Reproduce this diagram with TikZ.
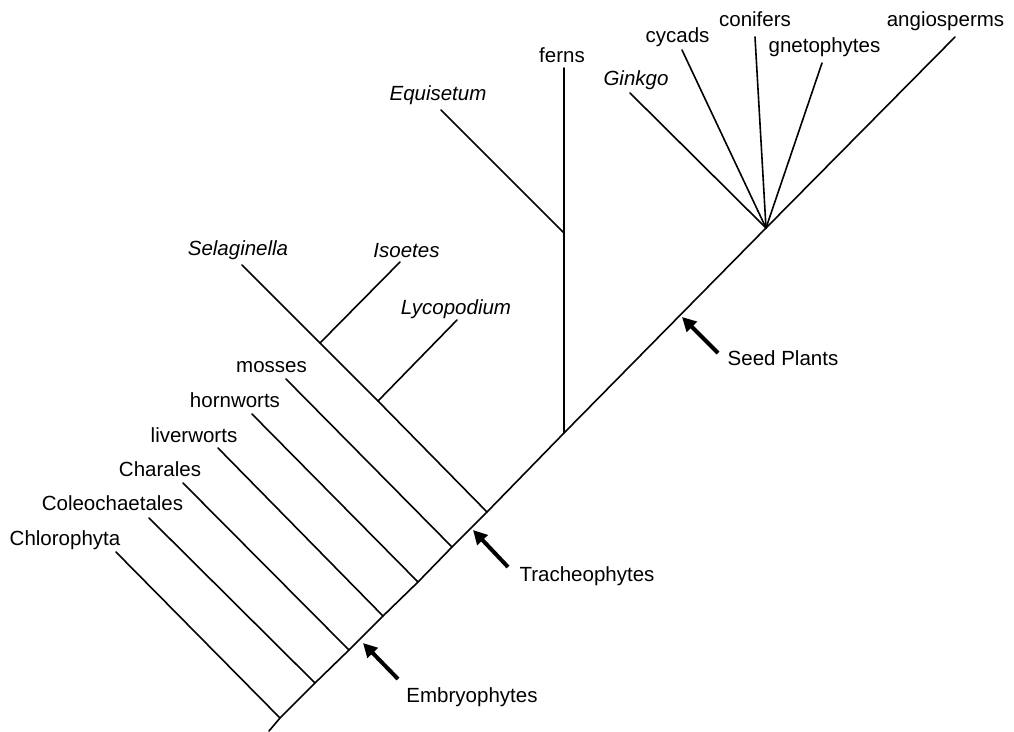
\documentclass[tikz,border=0pt]{standalone}
\usepackage{fontspec}
\setmainfont{Liberation Sans}
\usetikzlibrary{arrows.meta}
\begin{document}
\begin{tikzpicture}[x=1pt,y=-1pt,
  branch/.style={line width=1.6pt, line cap=round},
  lbl/.style={anchor=base, inner sep=0pt, font=\fontsize{20.5}{24}\selectfont},
  ilbl/.style={lbl, font=\fontsize{20.5}{24}\selectfont\itshape},
  marker/.style={line width=4pt, -{Triangle[length=14pt,width=14pt]}}]
\useasboundingbox[fill=white] (0,0) rectangle (1014,731);

% trunk junctions
\coordinate (root) at (269,731);
\coordinate (jchl) at (280,718);
\coordinate (jcol) at (315,683);
\coordinate (jcha) at (349,650);
\coordinate (jliv) at (383,616);
\coordinate (jhor) at (418,582);
\coordinate (jmos) at (452,547);
\coordinate (jtra) at (487,512);
\coordinate (jfer) at (564,433);
\coordinate (jsee) at (766,228);

% tips
\coordinate (tchl) at (116,552);
\coordinate (tcol) at (149,518);
\coordinate (tcha) at (183,483);
\coordinate (tliv) at (218,448);
\coordinate (thor) at (252,414);
\coordinate (tmos) at (286,379);
\coordinate (tsel) at (242,265);
\coordinate (jiso) at (320,343);
\coordinate (tiso) at (400,262);
\coordinate (jlyc) at (378,401);
\coordinate (tlyc) at (457,320);
\coordinate (jequ) at (564,233);
\coordinate (tequ) at (441,110);
\coordinate (tfer) at (564,68);
\coordinate (tgin) at (630,93);
\coordinate (tcyc) at (682,50);
\coordinate (tcon) at (755,37);
\coordinate (tgne) at (822,63);
\coordinate (tang) at (955,37);

% trunk
\draw[branch] (root) -- (jchl) -- (jcol) -- (jcha) -- (jliv) -- (jhor) -- (jmos) -- (jtra) -- (jfer) -- (jsee) -- (tang);

% side branches
\draw[branch] (jchl) -- (tchl);
\draw[branch] (jcol) -- (tcol);
\draw[branch] (jcha) -- (tcha);
\draw[branch] (jliv) -- (tliv);
\draw[branch] (jhor) -- (thor);
\draw[branch] (jmos) -- (tmos);
\draw[branch] (jtra) -- (jlyc) -- (jiso) -- (tsel);
\draw[branch] (jiso) -- (tiso);
\draw[branch] (jlyc) -- (tlyc);
\draw[branch] (jfer) -- (jequ) -- (tfer);
\draw[branch] (jequ) -- (tequ);
\draw[branch] (jsee) -- (tgin);
\draw[branch] (jsee) -- (tcyc);
\draw[branch] (jsee) -- (tcon);
\draw[branch] (jsee) -- (tgne);

% labels
\node[lbl] (lchl) at (65,545) {Chlorophyta};
\node[lbl] (lcol) at (112.5,510.5) {Coleochaetales};
\node[lbl] (lcha) at (160,476.5) {Charales};
\node[lbl] (lliv) at (194,442.5) {liverworts};
\node[lbl] (lhor) at (235,407.5) {hornworts};
\node[lbl] (lmos) at (271.5,372) {mosses};
\node[ilbl] (lsel) at (238,255) {Selaginella};
\node[ilbl] (liso) at (406.5,257) {Isoetes};
\node[ilbl] (llyc) at (456,314) {Lycopodium};
\node[ilbl] (lequ) at (438,100) {Equisetum};
\node[lbl] (lfer) at (562,62) {ferns};
\node[ilbl] (lgin) at (636,85) {Ginkgo};
\node[lbl] (lcyc) at (677.5,42) {cycads};
\node[lbl] (lcon) at (755,26) {conifers};
\node[lbl] (lgne) at (824.5,52) {gnetophytes};
\node[lbl] (lang) at (945.5,26) {angiosperms};

% clade markers
\node[lbl] (lsee) at (783,365) {Seed Plants};
\node[lbl] (ltra) at (587,581) {Tracheophytes};
\node[lbl] (lemb) at (472,702) {Embryophytes};
\coordinate (asee0) at (718,353);
\coordinate (asee1) at (682,317);
\coordinate (atra0) at (508,567);
\coordinate (atra1) at (473,530);
\coordinate (aemb0) at (398,679);
\coordinate (aemb1) at (363,643);
\draw[marker] (asee0) -- (asee1);
\draw[marker] (atra0) -- (atra1);
\draw[marker] (aemb0) -- (aemb1);
\end{tikzpicture}
\end{document}
